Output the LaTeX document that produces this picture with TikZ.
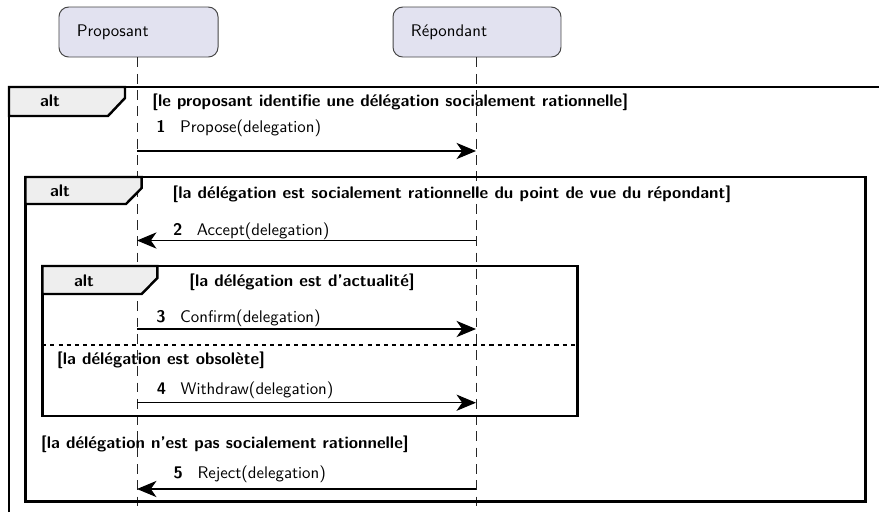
\documentclass[tikz,border=0pt]{standalone}
\usepackage{fontspec}
\usetikzlibrary{arrows.meta}
\definecolor{partfill}{RGB}{226,226,240}
\definecolor{partline}{RGB}{70,70,70}
\definecolor{tabfill}{RGB}{238,238,238}
\newcommand{\dgfont}{\sffamily\fontsize{10.35pt}{12.4pt}\selectfont}
\begin{document}
\begin{tikzpicture}[x=0.615pt,y=-0.615pt, font=\dgfont,
  participant/.style={draw=partline, fill=partfill, rounded corners=6pt, line width=0.6pt,
    minimum height=30.75pt, inner xsep=11pt, align=left},
  lifeline/.style={dash pattern=on 6pt off 4pt, line width=0.5pt, black!85},
  msg/.style={line width=0.7pt, -{Stealth[length=12pt,width=10pt,inset=3.5pt]}},
  framebox/.style={line width=1.5pt},
  tabbox/.style={line width=1.5pt, fill=tabfill},
  sep/.style={line width=1pt, dash pattern=on 2.5pt off 2.5pt},
  guard/.style={anchor=base west, font=\dgfont\bfseries, inner sep=0pt},
  lbl/.style={anchor=base west, inner sep=0pt},
  altlbl/.style={anchor=base, font=\dgfont\bfseries, inner sep=0pt}
]
\useasboundingbox (0,0) rectangle (879,512);
\fill[white] (0,0) rectangle (879,512);

% participants
\node[participant, text width=75.8pt] (prop) at (138.5,32) {Proposant};
\node[participant, text width=81.3pt] (rep) at (477,32) {Répondant};
\coordinate (propend) at (137,512);
\coordinate (repend) at (476,512);
\draw[lifeline] (prop.south -| propend) -- (propend);
\draw[lifeline] (rep.south -| repend) -- (repend);

% outer frame
\draw[framebox] (9,512) -- (9,87) -- (879,87);
\draw[tabbox] (9,87) -- (125,87) -- (125,98) -- (108,116) -- (9,116) -- cycle;
\node[altlbl] (alt1) at (50,106) {alt};
\node[guard] (g1) at (152,106.5) {[le proposant identifie une délégation socialement rationnelle]};

% message 1
\node[lbl] (l1) at (156,132.3) {\textbf{1}\hspace{9pt}Propose(delegation)};
\coordinate (p1) at (137,151);
\coordinate (r1) at (476,151);
\draw[msg] (p1) -- (r1);

% frame 2
\draw[framebox] (25.5,177) rectangle (865.5,501.5);
\draw[tabbox] (25.5,177) -- (141.7,177) -- (141.7,188) -- (126,204) -- (25.5,204) -- cycle;
\node[altlbl] (alt2) at (60,196.5) {alt};
\node[guard] (g2) at (172.3,198) {[la délégation est socialement rationnelle du point de vue du répondant]};

% message 2
\node[lbl] (l2) at (172.7,235) {\textbf{2}\hspace{9pt}Accept(delegation)};
\coordinate (p2) at (137,240.5);
\coordinate (r2) at (476,240.5);
\draw[msg] (r2) -- (p2);

% frame 3
\draw[framebox] (42.3,266) rectangle (577.7,416);
\draw[tabbox] (42.3,266) -- (157.3,266) -- (157.3,278) -- (141.7,294) -- (42.3,294) -- cycle;
\node[altlbl] (alt3) at (84,286.5) {alt};
\node[guard] (g3) at (189,286.7) {[la délégation est d'actualité]};

% message 3
\node[lbl] (l3) at (156,322.7) {\textbf{3}\hspace{9pt}Confirm(delegation)};
\coordinate (p3) at (137,329);
\coordinate (r3) at (476,329);
\draw[msg] (p3) -- (r3);

% separator
\coordinate (s3a) at (42.3,344.7);
\coordinate (s3b) at (577.7,344.7);
\draw[sep] (s3a) -- (s3b);
\node[guard] (g4) at (56.7,364) {[la délégation est obsolète]};

% message 4
\node[lbl] (l4) at (156.5,394.3) {\textbf{4}\hspace{9pt}Withdraw(delegation)};
\coordinate (p4) at (137,402.7);
\coordinate (r4) at (476,402.7);
\draw[msg] (p4) -- (r4);

% else of frame 2
\node[guard] (g5) at (40.7,448.3) {[la délégation n'est pas socialement rationnelle]};

% message 5
\node[lbl] (l5) at (173.3,478.3) {\textbf{5}\hspace{9pt}Reject(delegation)};
\coordinate (p5) at (137,489);
\coordinate (r5) at (476,489);
\draw[msg] (r5) -- (p5);
\end{tikzpicture}
\end{document}
